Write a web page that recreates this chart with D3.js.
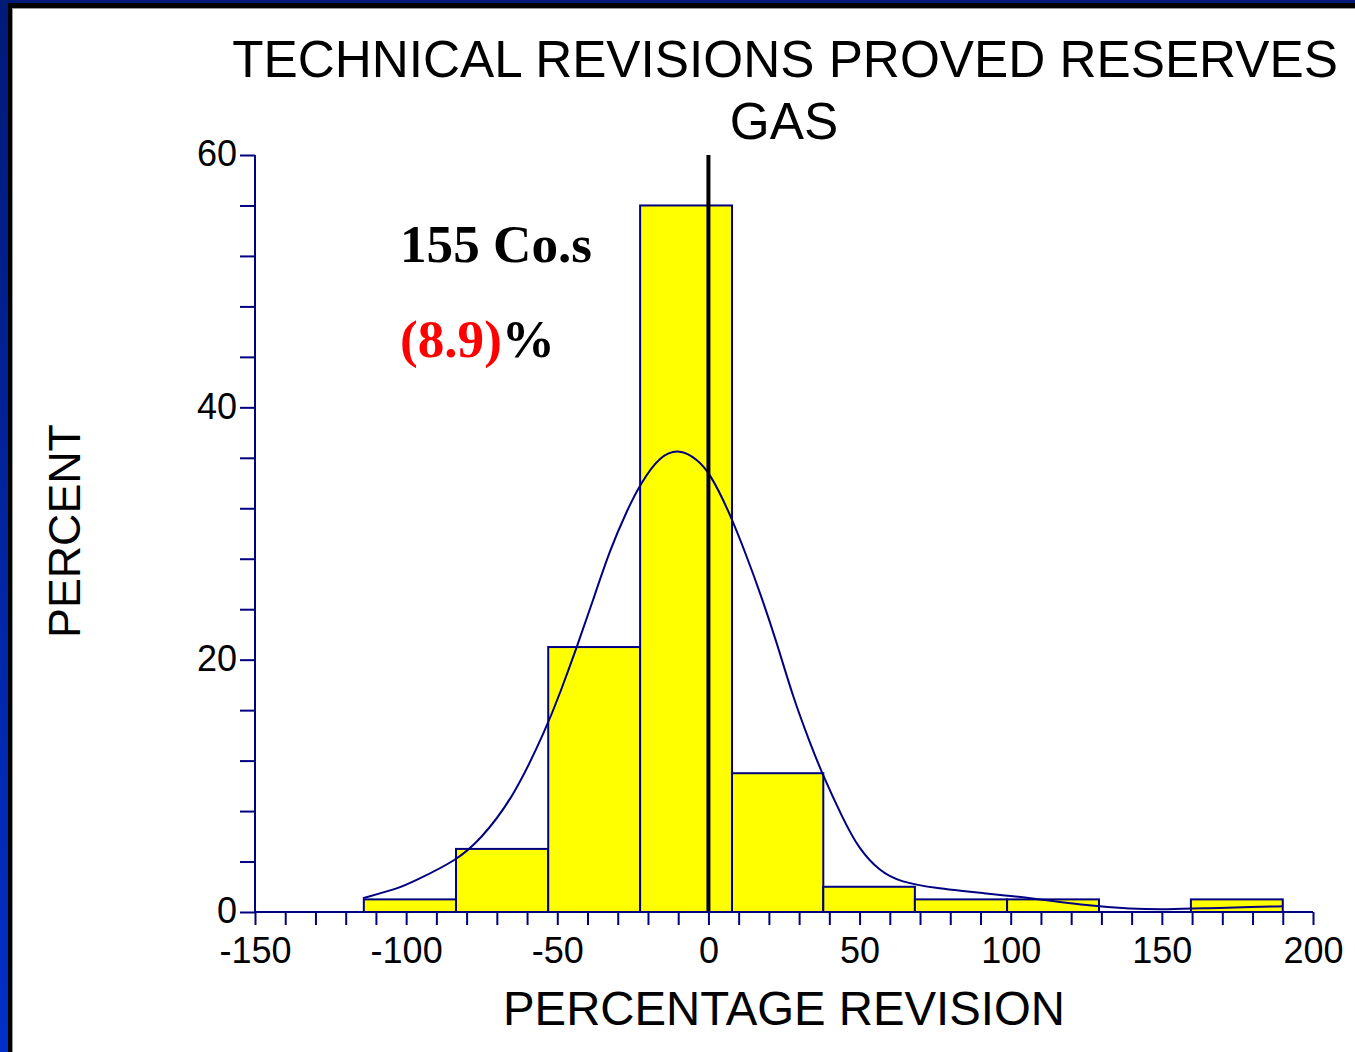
<!DOCTYPE html>
<html>
<head>
<meta charset="utf-8">
<script src="https://cdn.jsdelivr.net/npm/d3@7"></script>
<style>
  html, body { margin: 0; padding: 0; background: #ffffff; }
  svg { display: block; }
</style>
</head>
<body>
<script>
// ---------- DATA ----------
const binEdges = [-114, -83.5, -53, -22.6, 7.8, 38, 68.3, 98.8, 129.2, 159.6, 190];
const binPercents = [1, 5, 21, 56, 11, 2, 1, 1, 0, 1];
const curveX = [-114.3, -102.1, -97.7, -83.2, -75.6, -64.6, -53.4, -49.1, -43.5, -38.2, -32.6, -26.9, -22.6, -16.0, -9.4, -3.8, 0.5, 7.1, 12.8, 17.1, 22.7, 28.0, 33.6, 37.9, 44.5, 49.5, 56.7, 63.4, 74.3, 90.8, 107.4, 122.9, 140.4, 151.7, 165, 180.2, 190.1];
const curveY = [1.1, 1.9, 2.4, 4.1, 5.7, 9.0, 14.7, 17.35, 21.0, 24.7, 28.7, 31.85, 33.9, 36.2, 36.7, 35.9, 34.8, 31.6, 28.1, 25.3, 21.3, 17.0, 13.4, 10.8, 7.4, 5.1, 3.2, 2.4, 1.9, 1.5, 1.1, 0.55, 0.24, 0.2, 0.3, 0.4, 0.45];
const xTickLabels = [-150, -100, -50, 0, 50, 100, 150, 200];
const yTickLabels = [0, 20, 40, 60];
const titleLines = ["TECHNICAL REVISIONS PROVED RESERVES", "GAS"];
const xAxisTitle = "PERCENTAGE REVISION";
const yAxisTitle = "PERCENT";
const countLabel = "155 Co.s";
const meanValue = "(8.9)";
const meanSuffix = "%";
const referenceX = 0;

// ---------- LAYOUT ----------
const W = 1355, H = 1052;
const navy = "#000080";
const svg = d3.select("body").append("svg").attr("width", W).attr("height", H);

// frame
const defs = svg.append("defs");
const grad = defs.append("linearGradient").attr("id", "blueGrad")
  .attr("x1", 0).attr("y1", 0).attr("x2", 0).attr("y2", 1);
grad.append("stop").attr("offset", "0%").attr("stop-color", "#001a78");
grad.append("stop").attr("offset", "100%").attr("stop-color", "#0030c8");
svg.append("rect").attr("x", 0).attr("y", 0).attr("width", W).attr("height", 3).attr("fill", "#001a78");
svg.append("rect").attr("x", 0).attr("y", 0).attr("width", 8).attr("height", H).attr("fill", "url(#blueGrad)");
svg.append("rect").attr("x", 8).attr("y", 3).attr("width", W - 8).attr("height", 5).attr("fill", "#000");
svg.append("rect").attr("x", 8).attr("y", 3).attr("width", 4).attr("height", H).attr("fill", "#000");
svg.append("rect").attr("x", 12).attr("y", 8).attr("width", W - 12).attr("height", 1).attr("fill", "#999");
svg.append("rect").attr("x", 12).attr("y", 8).attr("width", 1).attr("height", H).attr("fill", "#999");

const x = d3.scaleLinear().domain([-150, 200]).range([255, 1313]);
const y = d3.scaleLinear().domain([0, 60]).range([912, 155]);

// bars
const bins = binPercents.map((v, i) => ({ x0: binEdges[i], x1: binEdges[i + 1], v }))
  .filter(d => d.v > 0);
svg.append("g").selectAll("rect").data(bins).join("rect")
  .attr("x", d => x(d.x0))
  .attr("y", d => y(d.v))
  .attr("width", d => x(d.x1) - x(d.x0))
  .attr("height", d => y(0) - y(d.v))
  .attr("fill", "#ffff00")
  .attr("stroke", navy)
  .attr("stroke-width", 2);

// fitted curve
const line = d3.line().x(d => x(d[0])).y(d => y(d[1])).curve(d3.curveBasis);
svg.append("path").datum(curveX.map((cx, i) => [cx, curveY[i]]))
  .attr("d", line).attr("fill", "none").attr("stroke", navy).attr("stroke-width", 2);

// reference line at 0
svg.append("line")
  .attr("x1", x(referenceX)).attr("x2", x(referenceX))
  .attr("y1", y(60)).attr("y2", y(0))
  .attr("stroke", "#000").attr("stroke-width", 4);

// x axis
const xAxis = d3.axisBottom(x).tickValues(d3.range(-150, 201, 10)).tickSize(13)
  .tickFormat(d => xTickLabels.includes(d) ? d : "");
const gx = svg.append("g").attr("transform", `translate(0,${y(0)})`).call(xAxis);
gx.select(".domain").attr("d", `M${x(-150)},0H${x(200)}`).attr("stroke", navy).attr("stroke-width", 2);
gx.selectAll(".tick line").attr("stroke", navy).attr("stroke-width", 2);
gx.selectAll(".tick text").attr("fill", "#000").attr("font-family", "'Liberation Sans', Arial, sans-serif")
  .attr("font-size", 36).attr("dy", null).attr("y", 51);

// y axis
const yTicksAll = Array.from(new Set(d3.range(0, 61, 4).concat(yTickLabels))).sort((a, b) => a - b);
const yAxis = d3.axisLeft(y).tickValues(yTicksAll).tickSize(15)
  .tickFormat(d => yTickLabels.includes(d) ? d : "");
const gy = svg.append("g").attr("transform", `translate(${x(-150)},0)`).call(yAxis);
gy.select(".domain").attr("d", `M0,${y(0)}V${y(60)}`).attr("stroke", navy).attr("stroke-width", 2);
gy.selectAll(".tick line").attr("stroke", navy).attr("stroke-width", 2);
gy.selectAll(".tick text").attr("fill", "#000").attr("font-family", "'Liberation Sans', Arial, sans-serif")
  .attr("font-size", 36).attr("x", -18).attr("dy", "0.30em");

// fit helper
function fitText(sel, targetWidth) {
  const len = sel.node().getComputedTextLength();
  const fs = parseFloat(sel.attr("font-size"));
  sel.attr("font-size", fs * targetWidth / len);
}

// titles
const sans = "'Liberation Sans', Arial, sans-serif";
const t1 = svg.append("text").attr("x", 785).attr("y", 77).attr("text-anchor", "middle")
  .attr("font-family", sans).attr("font-size", 50).text(titleLines[0]);
fitText(t1, 1106);
svg.append("text").attr("x", 784).attr("y", 139).attr("text-anchor", "middle")
  .attr("font-family", sans).attr("font-size", t1.attr("font-size")).text(titleLines[1]);

const xt = svg.append("text").attr("x", 784).attr("y", 1025).attr("text-anchor", "middle")
  .attr("font-family", sans).attr("font-size", 46).text(xAxisTitle);
fitText(xt, 562);

const yt = svg.append("text").attr("transform", "translate(80,531) rotate(-90)").attr("text-anchor", "middle")
  .attr("font-family", sans).attr("font-size", 44).text(yAxisTitle);
fitText(yt, 214);

// annotations
const serif = "'Liberation Serif', 'Times New Roman', serif";
const c1 = svg.append("text").attr("x", 400).attr("y", 262)
  .attr("font-family", serif).attr("font-weight", "bold").attr("font-size", 54).text(countLabel);
fitText(c1, 192);
const c2 = svg.append("text").attr("x", 400).attr("y", 357)
  .attr("font-family", serif).attr("font-weight", "bold").attr("font-size", c1.attr("font-size"));
c2.append("tspan").attr("fill", "#ff0000").text(meanValue);
c2.append("tspan").attr("fill", "#000").text(meanSuffix);
</script>
</body>
</html>
